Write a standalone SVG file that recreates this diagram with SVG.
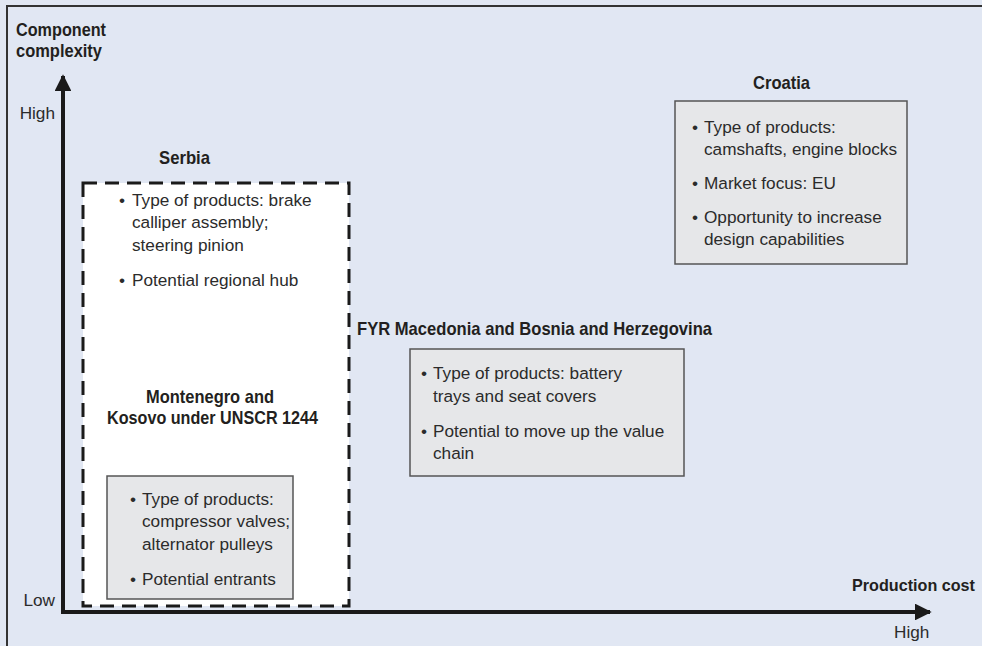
<svg xmlns="http://www.w3.org/2000/svg" width="982" height="646" viewBox="0 0 982 646">
<defs>
<style>
.t{font-family:"Liberation Sans",Arial,sans-serif;font-size:17.2px;fill:#2b2b2b}
.b{font-family:"Liberation Sans",Arial,sans-serif;font-size:18.5px;font-weight:bold;fill:#231f20}
.gb{fill:#e6e7e9;stroke:#555;stroke-width:1.5}
.ax{stroke:#1a1a1a;stroke-width:4;fill:none}
</style>
<marker id="ah" viewBox="0 0 10 10" refX="9" refY="5" markerWidth="4.2" markerHeight="4.2" markerUnits="strokeWidth" orient="auto">
<path d="M0,0 L10,5 L0,10 z" fill="#1a1a1a"/>
</marker>
</defs>
<rect x="0" y="0" width="982" height="646" fill="#e1e7f3"/>
<path d="M7,646 L7,6 L982,6" fill="none" stroke="#333" stroke-width="2"/>

<g id="axes">
<path class="ax" d="M63,612 L63,76" marker-end="url(#ah)"/>
<path class="ax" d="M61,612 L930,612" marker-end="url(#ah)"/>
<text class="b" x="16" y="36" textLength="90" lengthAdjust="spacingAndGlyphs">Component</text>
<text class="b" x="16" y="57" textLength="86" lengthAdjust="spacingAndGlyphs">complexity</text>
<text class="t" x="55" y="119" text-anchor="end">High</text>
<text class="t" x="55" y="606" text-anchor="end">Low</text>
<text class="b" x="852" y="591" style="font-size:16.2px" textLength="123" lengthAdjust="spacingAndGlyphs">Production cost</text>
<text class="t" x="894" y="638">High</text>
</g>

<g id="serbia">
<rect x="83" y="183" width="266" height="423" fill="#fff" stroke="#1a1a1a" stroke-width="3" stroke-dasharray="14 8"/>
<text class="b" x="159" y="164" textLength="51" lengthAdjust="spacingAndGlyphs">Serbia</text>
<text class="t" x="119" y="206">•</text>
<text class="t" x="132" y="206">Type of products: brake</text>
<text class="t" x="132" y="228">calliper assembly;</text>
<text class="t" x="132" y="251">steering pinion</text>
<text class="t" x="119" y="286">•</text>
<text class="t" x="132" y="286">Potential regional hub</text>
</g>

<g id="montenegro">
<text class="b" x="146" y="403" textLength="128" lengthAdjust="spacingAndGlyphs">Montenegro and</text>
<text class="b" x="107" y="424" textLength="211" lengthAdjust="spacingAndGlyphs">Kosovo under UNSCR 1244</text>
<rect class="gb" x="107" y="476" width="186" height="123"/>
<text class="t" x="130" y="505">•</text>
<text class="t" x="142" y="505">Type of products:</text>
<text class="t" x="142" y="527">compressor valves;</text>
<text class="t" x="142" y="550">alternator pulleys</text>
<text class="t" x="130" y="585">•</text>
<text class="t" x="142" y="585">Potential entrants</text>
</g>

<g id="croatia">
<text class="b" x="753" y="89" textLength="57" lengthAdjust="spacingAndGlyphs">Croatia</text>
<rect class="gb" x="675" y="101" width="232" height="163"/>
<text class="t" x="692" y="133">•</text>
<text class="t" x="704" y="133">Type of products:</text>
<text class="t" x="704" y="155">camshafts, engine blocks</text>
<text class="t" x="692" y="189">•</text>
<text class="t" x="704" y="189">Market focus: EU</text>
<text class="t" x="692" y="223">•</text>
<text class="t" x="704" y="223">Opportunity to increase</text>
<text class="t" x="704" y="245">design capabilities</text>
</g>

<g id="fyr">
<text class="b" x="357" y="335" textLength="355" lengthAdjust="spacingAndGlyphs">FYR Macedonia and Bosnia and Herzegovina</text>
<rect class="gb" x="410" y="349" width="274" height="127"/>
<text class="t" x="421" y="379">•</text>
<text class="t" x="433" y="379">Type of products: battery</text>
<text class="t" x="433" y="402">trays and seat covers</text>
<text class="t" x="421" y="437">•</text>
<text class="t" x="433" y="437">Potential to move up the value</text>
<text class="t" x="433" y="459">chain</text>
</g>
</svg>
